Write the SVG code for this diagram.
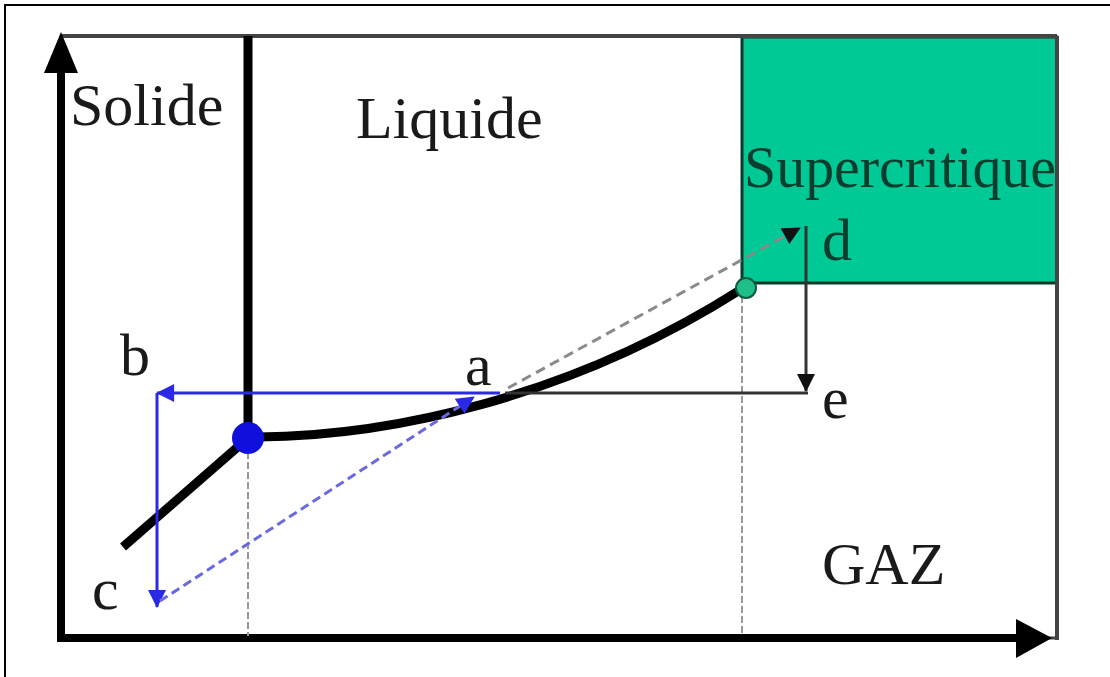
<svg xmlns="http://www.w3.org/2000/svg" width="1110" height="677" viewBox="0 0 1110 677">
<style>
.lbl{font-family:"Liberation Serif","Times New Roman",serif;font-size:60px;fill:#1a1a1a}
.dk{fill:#0b3d2f}
.thick{stroke:#000;stroke-width:9;fill:none;stroke-linecap:butt}
.guide{stroke:#999;stroke-width:2;stroke-dasharray:7 3;fill:none}
.blue{stroke:#2a2ae6;stroke-width:3;fill:none}
.bdash{stroke:#6a6ae0;stroke-width:3;stroke-dasharray:9 5;fill:none}
.gdash{stroke:#8a8a8a;stroke-width:3;stroke-dasharray:10 6;fill:none}
.blk{stroke:#333;stroke-width:3;fill:none}
</style>
<defs>
<marker id="ab" viewBox="0 0 10 10" refX="9" refY="5" markerWidth="5" markerHeight="5" orient="auto" markerUnits="userSpaceOnUse" style="overflow:visible">
<path d="M0,0 L10,5 L0,10 z" fill="#2a2ae6" transform="scale(2)"/>
</marker>
<marker id="ak" viewBox="0 0 20 20" refX="19" refY="10" markerWidth="20" markerHeight="18" orient="auto" markerUnits="userSpaceOnUse">
<path d="M0,0 L20,10 L0,20 z" fill="#111"/>
</marker>
<marker id="abl" viewBox="0 0 20 20" refX="19" refY="10" markerWidth="20" markerHeight="18" orient="auto" markerUnits="userSpaceOnUse">
<path d="M0,0 L20,10 L0,20 z" fill="#2a2ae6"/>
</marker>
</defs>
<rect x="5" y="5" width="1120" height="690" fill="#fff" stroke="#000" stroke-width="2"/>
<g id="supercritique">
<rect x="742" y="37" width="315" height="246" fill="#00c996" stroke="#0a3a2a" stroke-width="3"/>
<text class="lbl dk" x="744" y="187" textLength="312" lengthAdjust="spacingAndGlyphs">Supercritique</text>
</g>
<g id="axes">
<line x1="60" y1="36" x2="1057" y2="36" stroke="#444" stroke-width="4"/>
<line x1="1057" y1="36" x2="1057" y2="640" stroke="#444" stroke-width="4"/>
<line x1="61" y1="642" x2="61" y2="70" stroke="#000" stroke-width="8"/>
<path d="M61,32 L44,73 L78,73 z" fill="#000"/>
<line x1="57" y1="638" x2="1020" y2="638" stroke="#000" stroke-width="8"/>
<line x1="1020" y1="638" x2="1057" y2="638" stroke="#444" stroke-width="3"/>
<path d="M1052,638 L1016,619 L1016,658 z" fill="#000"/>
</g>
<g id="guides">
<line class="guide" x1="248" y1="452" x2="248" y2="636"/>
<line class="guide" x1="742" y1="296" x2="742" y2="636"/>
</g>
<g id="curves">
<line class="thick" x1="248" y1="36" x2="248" y2="438"/>
<line class="thick" x1="123" y1="547" x2="248" y2="438"/>
<path class="thick" d="M258,437 C390,436 570,398 740,290" stroke-width="7"/>
</g>
<g id="connectors">
<line class="gdash" x1="508" y1="388" x2="800" y2="228" marker-end="url(#ak)"/>
<line class="blk" x1="806" y1="226" x2="806" y2="391" marker-end="url(#ak)"/>
<line class="blk" x1="808" y1="393" x2="505" y2="393"/>
<line class="blue" x1="500" y1="393" x2="157" y2="393" marker-end="url(#abl)"/>
<line class="blue" x1="157" y1="393" x2="157" y2="607" marker-end="url(#abl)"/>
<line class="bdash" x1="160" y1="601" x2="474" y2="397" marker-end="url(#abl)"/>
</g>
<g id="triple-point"><circle cx="248" cy="438" r="16" fill="#1010dd"/></g>
<g id="critical-point"><circle cx="746" cy="288" r="10" fill="#1fbf8a" stroke="#0d5a3e" stroke-width="2"/></g>
<g id="labels">
<text class="lbl" x="70" y="125">Solide</text>
<text class="lbl" x="356" y="138">Liquide</text>
<text class="lbl" x="822" y="584">GAZ</text>
<text class="lbl" x="120" y="375">b</text>
<text class="lbl" x="465" y="385">a</text>
<text class="lbl" x="92" y="609">c</text>
<text class="lbl dk" x="822" y="260">d</text>
<text class="lbl" x="822" y="418">e</text>
</g>
</svg>
